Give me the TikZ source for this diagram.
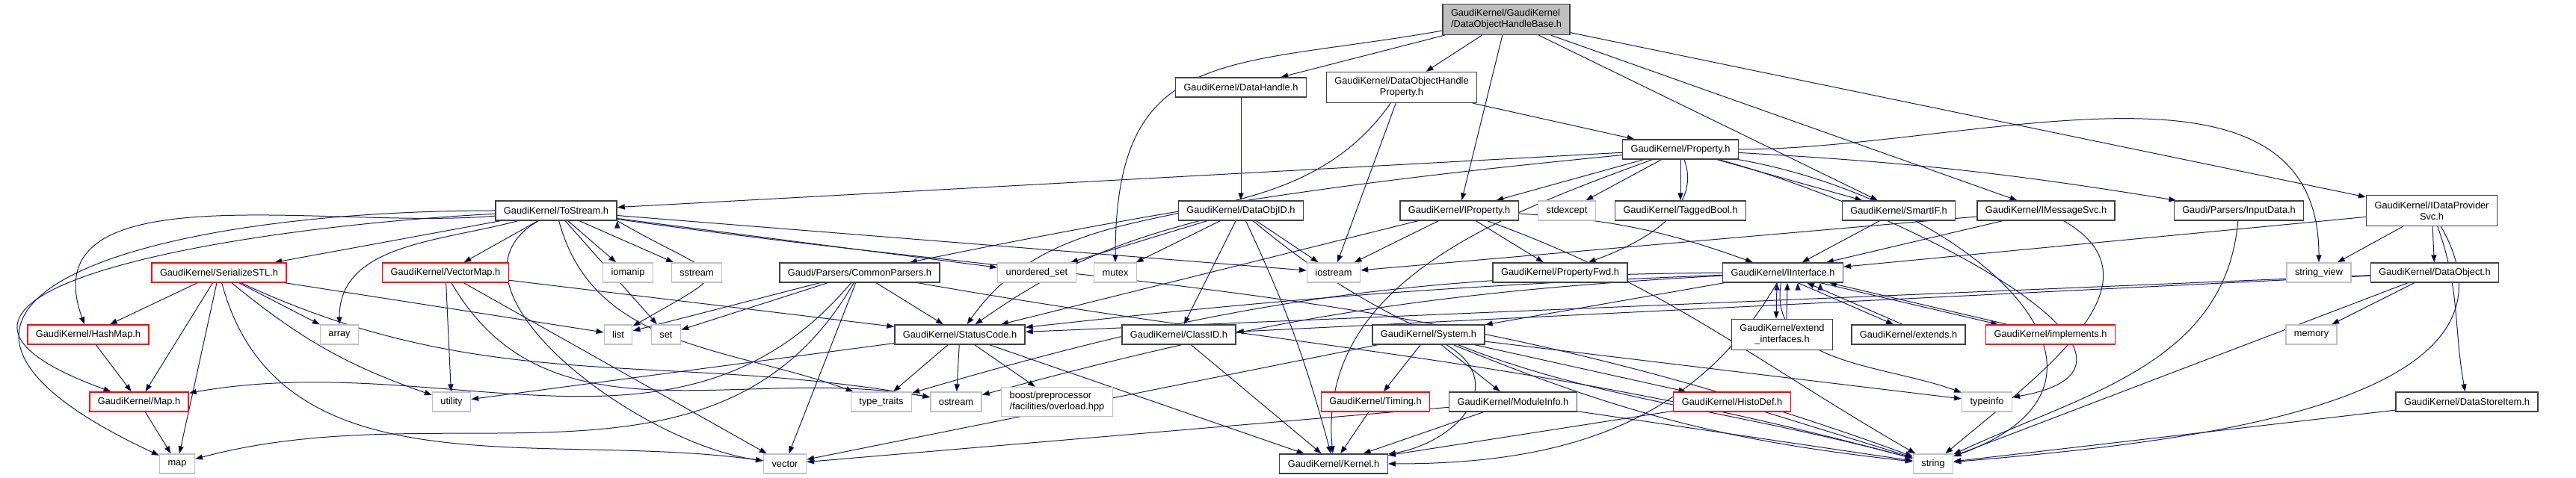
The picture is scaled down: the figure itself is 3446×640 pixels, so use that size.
\documentclass[tikz,border=0pt]{standalone}
\usepackage{fontspec}
\setmainfont{Liberation Sans}
\usetikzlibrary{arrows.meta}

\definecolor{edgeblue}{RGB}{25,25,112}
\definecolor{sysgray}{RGB}{191,191,191}
\pgfdeclarelayer{bg}
\pgfsetlayers{bg,main}

\tikzset{
  hdrbox/.style={draw=black!75, line width=0.33pt, fill=white, inner xsep=2.75pt, inner ysep=0.5pt,
    minimum height=6.5pt, font=\fontsize{3.2}{3.75}\selectfont},
  sysbox/.style={hdrbox, draw=sysgray},
  cutbox/.style={hdrbox, draw=red},
  rootbox/.style={hdrbox, fill=sysgray, align=left, minimum height=10.25pt},
  twoline/.style={align=center, minimum height=10.25pt},
  dep/.style={draw=edgeblue, line width=0.25pt, -{Triangle[length=2.5pt,width=1.8pt]}},
}

\begin{document}
\begin{tikzpicture}[x=0.25pt, y=0.25pt]
  \useasboundingbox (0,0) rectangle (3446,-640);

  % top rows
  \node[rootbox] (root) at (2015,-26) {GaudiKernel/GaudiKernel\\/DataObjectHandleBase.h};
  \node[hdrbox] (dhandle) at (1660,-117) {GaudiKernel/DataHandle.h};
  \node[hdrbox, twoline] (dohprop) at (1875,-117) {GaudiKernel/DataObjectHandle\\Property.h};
  \node[hdrbox] (prop) at (2248,-200) {GaudiKernel/Property.h};
  \node[hdrbox] (tostream) at (744,-282) {GaudiKernel/ToStream.h};
  \node[hdrbox] (objid) at (1660,-282) {GaudiKernel/DataObjID.h};
  \node[hdrbox] (iprop) at (1952,-282) {GaudiKernel/IProperty.h};
  \node[sysbox] (stdexcept) at (2096,-282) {stdexcept};
  \node[hdrbox] (taggedbool) at (2248,-282) {GaudiKernel/TaggedBool.h};
  \node[hdrbox] (smartif) at (2540,-282) {GaudiKernel/SmartIF.h};
  \node[hdrbox] (imsgsvc) at (2737,-282) {GaudiKernel/IMessageSvc.h};
  \node[hdrbox] (inputdata) at (2995,-282) {Gaudi/Parsers/InputData.h};
  \node[hdrbox, twoline] (idpsvc) at (3253,-282) {GaudiKernel/IDataProvider\\Svc.h};

  % middle rows
  \node[cutbox] (serial) at (293,-365) {GaudiKernel/SerializeSTL.h};
  \node[cutbox] (vmap) at (596,-365) {GaudiKernel/VectorMap.h};
  \node[sysbox] (iomanip) at (840,-365) {iomanip};
  \node[sysbox] (sstream) at (932,-365) {sstream};
  \node[hdrbox] (cparsers) at (1150,-365) {Gaudi/Parsers/CommonParsers.h};
  \node[sysbox] (unordset) at (1387,-365) {unordered\_set};
  \node[sysbox] (mutex) at (1492,-365) {mutex};
  \node[sysbox] (iostream) at (1784,-365) {iostream};
  \node[hdrbox] (propfwd) at (2087,-365) {GaudiKernel/PropertyFwd.h};
  \node[hdrbox] (interface) at (2385,-365) {GaudiKernel/IInterface.h};
  \node[sysbox] (strview) at (3102,-365) {string\_view};
  \node[hdrbox] (dataobj) at (3257,-365) {GaudiKernel/DataObject.h};
  \node[cutbox] (hashmap) at (118,-448) {GaudiKernel/HashMap.h};
  \node[sysbox] (array) at (454,-448) {array};
  \node[sysbox] (list) at (827,-448) {list};
  \node[sysbox] (set) at (891,-448) {set};
  \node[hdrbox] (statuscode) at (1284,-448) {GaudiKernel/StatusCode.h};
  \node[hdrbox] (classid) at (1577,-448) {GaudiKernel/ClassID.h};
  \node[hdrbox] (system) at (1911,-448) {GaudiKernel/System.h};
  \node[hdrbox, twoline] (extif) at (2384,-448) {GaudiKernel/extend\\\_interfaces.h};
  \node[hdrbox] (extends) at (2553,-448) {GaudiKernel/extends.h};
  \node[cutbox] (implements) at (2743,-448) {GaudiKernel/implements.h};
  \node[sysbox] (memory) at (3092,-448) {memory};

  % bottom rows
  \node[cutbox] (maph) at (186,-538) {GaudiKernel/Map.h};
  \node[sysbox] (utility) at (604,-538) {utility};
  \node[sysbox] (typetraits) at (1179,-538) {type\_traits};
  \node[sysbox] (ostream) at (1279,-538) {ostream};
  \node[sysbox, align=left, minimum height=9.75pt] (boost) at (1414,-538) {boost/preprocessor\\/facilities/overload.hpp};
  \node[cutbox] (timing) at (1840,-538) {GaudiKernel/Timing.h};
  \node[hdrbox] (modinfo) at (2024,-538) {GaudiKernel/ModuleInfo.h};
  \node[cutbox] (histodef) at (2317,-538) {GaudiKernel/HistoDef.h};
  \node[sysbox] (typeinfo) at (2658,-538) {typeinfo};
  \node[hdrbox] (dsitem) at (3300,-538) {GaudiKernel/DataStoreItem.h};
  \node[sysbox] (map) at (237,-621) {map};
  \node[sysbox] (vector) at (1050,-621) {vector};
  \node[hdrbox] (kernel) at (1784,-621) {GaudiKernel/Kernel.h};
  \node[sysbox] (string) at (2586,-621) {string};

  \begin{pgfonlayer}{bg}
    \draw[dep] (root) edge[out=190, in=90, looseness=1.4] (mutex) edge (dhandle) edge (dohprop)
      edge (iprop) edge (smartif) edge (imsgsvc) edge (idpsvc);
    \draw[dep] (dhandle) edge (objid);
    \draw[dep] (dohprop) edge (prop) edge (iostream) edge[out=-125, in=55] (statuscode);
    \draw[dep] (objid) edge (unordset) edge (mutex) edge[bend right=10] (statuscode) edge (classid)
      edge (iostream) edge[bend left=5] (kernel) edge[out=-40, in=165] (string);
    \draw[dep] (prop) edge (tostream) edge[bend right=3] (cparsers) edge (iprop) edge (stdexcept)
      edge (taggedbool) edge (smartif) edge[bend left=3] (inputdata)
      edge[out=0, in=90] (strview) edge[out=-70, in=20] (propfwd) edge[out=200, in=95] (kernel)
      edge[out=-10, in=20, looseness=1.6] (string) edge[out=-15, in=10, looseness=1.3] (typeinfo);
    \draw[dep] (tostream) edge (serial) edge (vmap) edge (iomanip) edge (sstream) edge (set)
      edge[out=195, in=90] (array)
      edge[out=185, in=110] (hashmap) edge[out=183, in=160, looseness=1.7] (maph)
      edge[out=180, in=155, looseness=2.2] (map) edge[out=-150, in=172] (vector)
      edge (unordset) edge (iostream) edge[out=-75, in=160] (typetraits)
      edge[out=-8, in=160] (string);
    \draw[dep] (tostream.south east) edge[out=-30, in=30, looseness=3] (list);
    \draw[dep] (serial) edge (hashmap) edge (maph) edge (map) edge (array) edge (list)
      edge[bend right=10] (utility) edge[out=-75, in=172] (vector) edge[out=-25, in=170] (ostream);
    \draw[dep] (vmap) edge (utility) edge (vector) edge[out=-60, in=170] (ostream) edge (statuscode);
    \draw[dep] (cparsers) edge (statuscode) edge (list) edge (set) edge (vector)
      edge[out=-120, in=15] (map) edge[out=-130, in=10] (maph) edge[out=-10, in=165] (string);
    \draw[dep] (iprop) edge (iostream) edge (statuscode) edge (propfwd) edge[bend left=8] (interface)
      edge[out=-20, in=150] (string);
    \draw[dep] (smartif) edge (interface);
    \draw[dep] (imsgsvc) edge (interface) edge (iostream) edge[out=-30, in=40, looseness=1.2] (string);
    \draw[dep] (inputdata) edge[out=-95, in=25] (string);
    \draw[dep] (idpsvc) edge (interface) edge (strview) edge (dataobj) edge[out=-70, in=100] (dsitem)
      edge[out=-60, in=5] (string);
    \draw[dep] (dataobj) edge (memory) edge (string) edge (classid) edge (statuscode);
    \draw[dep] (dsitem) edge (string);
    \draw[dep] (interface) edge (system) edge[bend right=2] (statuscode) edge[out=-120, in=0] (kernel)
      edge[bend right=8] (typetraits) edge[bend right=6] (ostream) edge[out=-100, in=160] (typeinfo);
    \draw[dep] ([xshift=-2pt]interface.south) edge ([xshift=-2pt]extif.north);
    \draw[dep] ([xshift=1.5pt]extif.north) edge ([xshift=1.5pt]interface.south);
    \draw[dep] ([xshift=5pt]interface.south) edge ([xshift=-5pt]extends.north);
    \draw[dep] ([xshift=-2pt]extends.north) edge ([xshift=8pt]interface.south);
    \draw[dep] ([xshift=12.5pt]interface.south) edge ([xshift=-17.5pt]implements.north);
    \draw[dep] ([xshift=-14.5pt]implements.north) edge ([xshift=15.5pt]interface.south);
    \draw[dep] (statuscode) edge (typetraits) edge (ostream) edge (boost) edge (kernel) edge (utility);
    \draw[dep] (classid) edge (kernel);
    \draw[dep] (system) edge (vector) edge (timing) edge (modinfo) edge (histodef)
      edge[out=-30, in=10, looseness=1.5] (kernel) edge[bend right=8] (string) edge (typeinfo);
    \draw[dep] (timing) edge (kernel);
    \draw[dep] (modinfo) edge (kernel) edge (vector) edge (string);
    \draw[dep] (histodef) edge (kernel) edge (string);
    \draw[dep] (hashmap) edge (maph);
    \draw[dep] (maph) edge (map);
  \end{pgfonlayer}
\end{tikzpicture}
\end{document}
